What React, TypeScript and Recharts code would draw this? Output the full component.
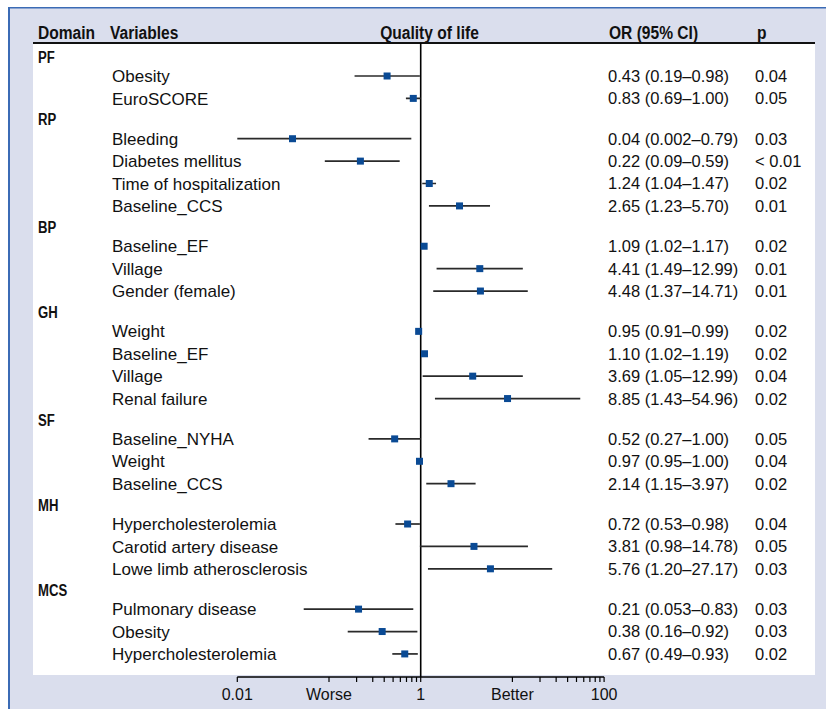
import React from 'react';
import { ScatterChart, Scatter, XAxis, YAxis, ReferenceLine } from 'recharts';

// ---------- data ----------
const domainOfRow = ['PF', 'PF', 'RP', 'RP', 'RP', 'RP', 'BP', 'BP', 'BP', 'GH', 'GH', 'GH', 'GH', 'SF', 'SF', 'SF', 'MH', 'MH', 'MH', 'MCS', 'MCS', 'MCS'];
const variables = [
  'Obesity', 'EuroSCORE',
  'Bleeding', 'Diabetes mellitus', 'Time of hospitalization', 'Baseline_CCS',
  'Baseline_EF', 'Village', 'Gender (female)',
  'Weight', 'Baseline_EF', 'Village', 'Renal failure',
  'Baseline_NYHA', 'Weight', 'Baseline_CCS',
  'Hypercholesterolemia', 'Carotid artery disease', 'Lowe limb atherosclerosis',
  'Pulmonary disease', 'Obesity', 'Hypercholesterolemia',
];
const oddsRatios = [0.43, 0.83, 0.04, 0.22, 1.24, 2.65, 1.09, 4.41, 4.48, 0.95, 1.10, 3.69, 8.85, 0.52, 0.97, 2.14, 0.72, 3.81, 5.76, 0.21, 0.38, 0.67];
const ciLower = [0.19, 0.69, 0.002, 0.09, 1.04, 1.23, 1.02, 1.49, 1.37, 0.91, 1.02, 1.05, 1.43, 0.27, 0.95, 1.15, 0.53, 0.98, 1.20, 0.053, 0.16, 0.49];
const ciUpper = [0.98, 1.00, 0.79, 0.59, 1.47, 5.70, 1.17, 12.99, 14.71, 0.99, 1.19, 12.99, 54.96, 1.00, 1.00, 3.97, 0.98, 14.78, 27.17, 0.83, 0.92, 0.93];
const pValues = ['0.04', '0.05', '0.03', '< 0.01', '0.02', '0.01', '0.02', '0.01', '0.01', '0.02', '0.02', '0.04', '0.02', '0.05', '0.04', '0.02', '0.04', '0.05', '0.03', '0.03', '0.03', '0.02'];
const xTicks = [0.01, 0.1, 0.2, 0.3, 0.4, 0.5, 0.6, 0.7, 0.8, 0.9, 1, 10, 20, 30, 40, 50, 60, 70, 80, 90, 100];
const xTickLabels: Record<string, string> = { '0.01': '0.01', '0.1': 'Worse', '1': '1', '10': 'Better', '100': '100' };
const headers = ['Domain', 'Variables', 'Quality of life', 'OR (95% CI)', 'p'];

// ---------- layout (row positions derived from the grouping) ----------
const GROUP_GAP = 0.8;
const HEADER_OFFSET = 0.85;

const fmt = (v: number) =>
  Math.abs(v * 100 - Math.round(v * 100)) < 1e-9 ? v.toFixed(2) : v.toFixed(3);

type Row = { y: number; x: number; lo: number; hi: number; name: string; p: string; label: string };
const rows: Row[] = [];
const headerRows: { y: number; domain: string }[] = [];
(() => {
  let pos = 0;
  let prev: string | null = null;
  variables.forEach((name, i) => {
    const d = domainOfRow[i];
    if (d !== prev) {
      if (prev !== null) pos += GROUP_GAP;
      headerRows.push({ y: pos - HEADER_OFFSET, domain: d });
      prev = d;
    }
    rows.push({
      y: pos,
      x: oddsRatios[i],
      lo: ciLower[i],
      hi: ciUpper[i],
      name,
      p: pValues[i],
      label: `${fmt(oddsRatios[i])} (${fmt(ciLower[i])}\u2013${fmt(ciUpper[i])})`,
    });
    pos += 1;
  });
})();

const leftTicks = [...headerRows.map((h) => h.y), ...rows.map((r) => r.y)].sort((a, b) => a - b);
const rightTicks = rows.map((r) => r.y);
const Y_DOMAIN: [number, number] = [-1.473, 26.83];

const BODY_FONT = "'Liberation Sans', Arial, sans-serif";
const BOLD_FONT = "'Liberation Sans', Arial, sans-serif";
const NARROW = 0.82;
const SQUARE = '#0a4a94';

const NarrowBold = ({ x, y, size, anchor, dy, children }: any) => (
  <text
    transform={`translate(${x},${y}) scale(${NARROW},1)`}
    dy={dy}
    textAnchor={anchor || 'start'}
    fontFamily={BOLD_FONT}
    fontWeight="bold"
    fontSize={size}
    fill="#111"
  >
    {children}
  </text>
);

const LeftTick = (props: any) => {
  const { y, payload } = props;
  const v = payload.value;
  const h = headerRows.find((r) => Math.abs(r.y - v) < 1e-6);
  if (h) {
    return (
      <NarrowBold x={38} y={y} dy="0.36em" size={16}>
        {h.domain}
      </NarrowBold>
    );
  }
  const r = rows.find((rr) => Math.abs(rr.y - v) < 1e-6);
  if (!r) return null;
  return (
    <text x={112} y={y} dy="0.36em" fontFamily={BODY_FONT} fontSize={17} fill="#111">
      {r.name}
    </text>
  );
};

const RightTick = (props: any) => {
  const { y, payload } = props;
  const r = rows.find((rr) => Math.abs(rr.y - payload.value) < 1e-6);
  if (!r) return null;
  return (
    <g>
      <text x={608} y={y} dy="0.36em" fontFamily={BODY_FONT} fontSize={16.5} fill="#111">
        {r.label}
      </text>
      <text x={755} y={y} dy="0.36em" fontFamily={BODY_FONT} fontSize={16.5} fill="#111">
        {r.p}
      </text>
    </g>
  );
};

const SquareShape = (props: any) => {
  const { cx, cy } = props;
  if (cx == null || cy == null) return null;
  return <rect x={cx - 3.5} y={cy - 3.5} width={7} height={7} fill={SQUARE} />;
};

export default function App() {
  return (
    <div style={{ position: 'relative', width: 826, height: 709, overflow: 'hidden', background: '#fff' }}>
      <style>{'body{margin:0;}'}</style>
      <svg width={826} height={709} style={{ position: 'absolute', left: 0, top: 0 }}>
        <rect x={8} y={7} width={818} height={702} fill="#dadeed" />
        <rect x={8} y={7} width={818} height={1.5} fill="#3b6bb5" />
        <rect x={8} y={7} width={2} height={702} fill="#3b6bb5" />
        <rect x={33} y={43} width={782} height={632} fill="#ffffff" />
        <rect x={33} y={42} width={782} height={2} fill="#111" />
        <NarrowBold x={38} y={39} size={19}>{headers[0]}</NarrowBold>
        <NarrowBold x={110} y={39} size={19}>{headers[1]}</NarrowBold>
        <NarrowBold x={429.5} y={39} size={19} anchor="middle">{headers[2]}</NarrowBold>
        <NarrowBold x={609} y={39} size={19}>{headers[3]}</NarrowBold>
        <NarrowBold x={757} y={39} size={19}>{headers[4]}</NarrowBold>
      </svg>
      <div style={{ position: 'absolute', left: 0, top: 0 }}>
        <ScatterChart width={826} height={709} margin={{ top: 43, right: 21.9, bottom: 2, left: 37.3 }}>
          <XAxis
            type="number"
            dataKey="x"
            scale="log"
            domain={[0.01, 100]}
            allowDataOverflow
            ticks={xTicks}
            interval={0}
            tickFormatter={(v: number) => xTickLabels[String(v)] ?? ''}
            tick={{ fill: '#111', fontSize: 16, fontFamily: BODY_FONT }}
            tickSize={5}
            tickMargin={7}
            height={30}
            axisLine={{ stroke: '#000', strokeWidth: 1.5 }}
            tickLine={{ stroke: '#000', strokeWidth: 1.2 }}
          />
          <YAxis
            yAxisId="left"
            orientation="left"
            type="number"
            dataKey="y"
            domain={Y_DOMAIN}
            allowDataOverflow
            reversed
            width={200}
            ticks={leftTicks}
            interval={0}
            tick={<LeftTick />}
            axisLine={false}
            tickLine={false}
          />
          <YAxis
            yAxisId="right"
            orientation="right"
            type="number"
            domain={Y_DOMAIN}
            allowDataOverflow
            reversed
            width={200}
            ticks={rightTicks}
            interval={0}
            tick={<RightTick />}
            axisLine={false}
            tickLine={false}
          />
          <ReferenceLine x={1} yAxisId="left" stroke="#000" strokeWidth={1.6} />
          {rows.map((r, i) => (
            <ReferenceLine
              key={`ci-${i}`}
              yAxisId="left"
              segment={[{ x: r.lo, y: r.y }, { x: r.hi, y: r.y }]}
              stroke="#2a2a2a"
              strokeWidth={1.7}
              ifOverflow="hidden"
            />
          ))}
          <Scatter
            yAxisId="left"
            data={rows}
            dataKey="y"
            shape={<SquareShape />}
            isAnimationActive={false}
          />
        </ScatterChart>
      </div>
    </div>
  );
}
